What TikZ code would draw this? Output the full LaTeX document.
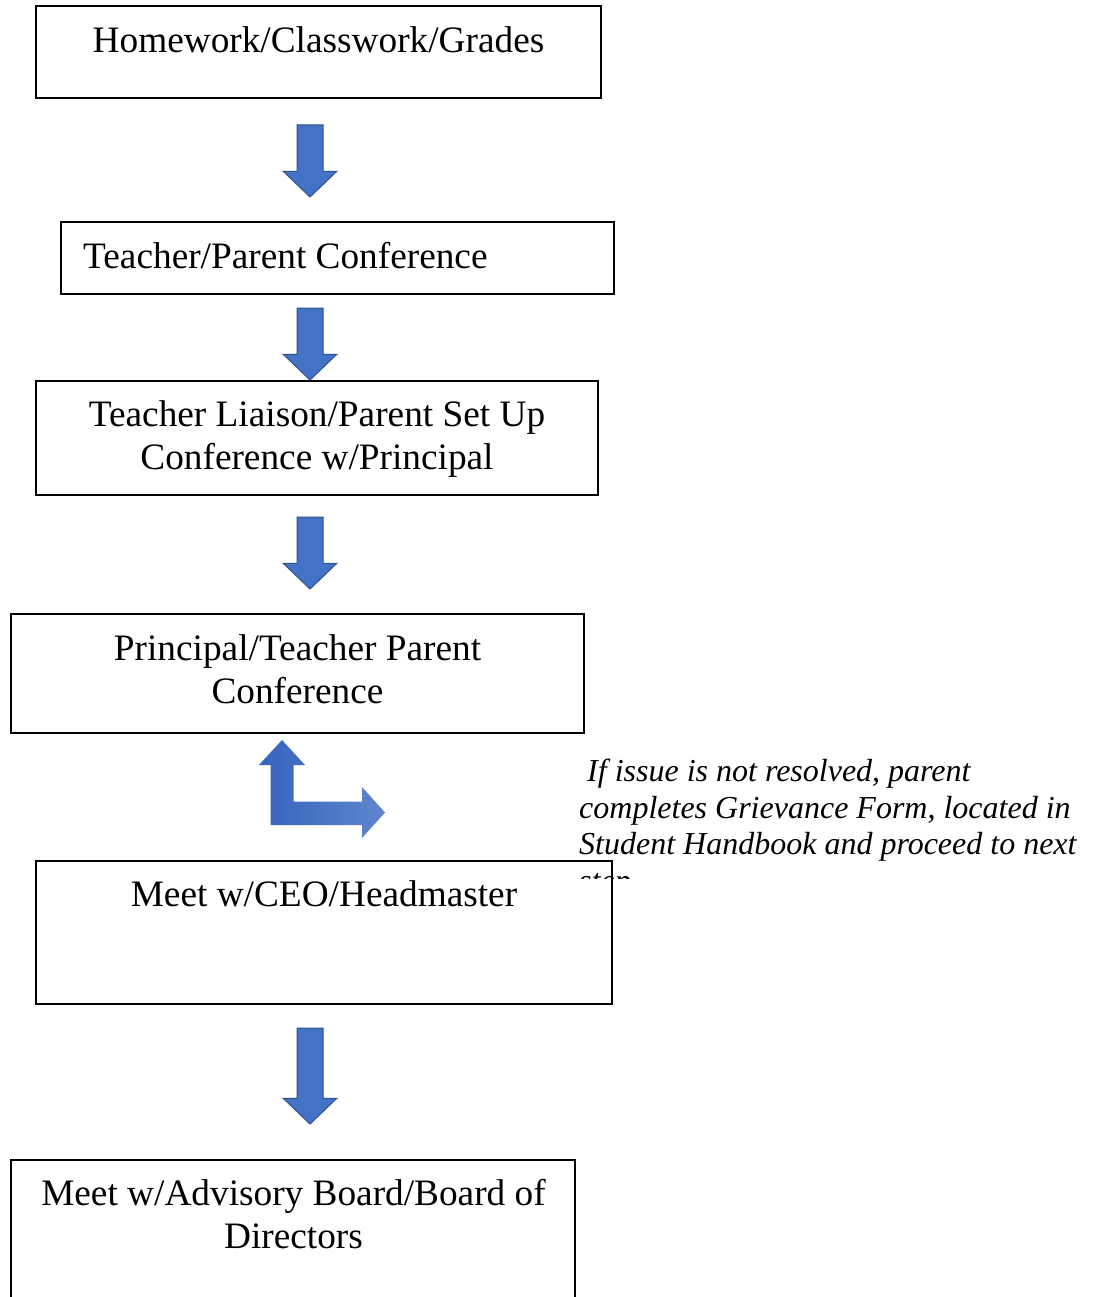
\documentclass[tikz,border=0pt]{standalone}
\usepackage{fontspec}
\setmainfont{Liberation Serif}
\begin{document}
\begin{tikzpicture}[x=1pt,y=-1pt,
  box/.style={draw=black,line width=1.6pt,inner sep=0pt,outer sep=0pt},
  lbl/.style={inner sep=0pt,font=\fontsize{37.3}{43}\selectfont,align=center},
  note/.style={inner sep=0pt,font=\fontsize{32}{36.6}\selectfont\itshape,align=left,anchor=north west},
  blk/.style={fill=arrowblue,draw=arrowedge,line width=1pt,line join=miter}]
\definecolor{arrowblue}{HTML}{4472C4}
\definecolor{arrowedge}{HTML}{2F528F}
\definecolor{bentleft}{HTML}{3563BC}
\definecolor{bentright}{HTML}{5F86CE}
\useasboundingbox (0,0) rectangle (1096,1297);
\fill[white] (0,0) rectangle (1096,1297);

% note text (clipped last line)
\begin{scope}
\clip (570,745) rectangle (1096,878);
\node[note] (note) at (579,759) {\ If issue is not resolved, parent\\ completes Grievance Form, located in\\ Student Handbook and proceed to next\\ step};
\end{scope}

% boxes
\draw[box] (36,6) rectangle (601,98);
\node[lbl] (t1) at (318.5,40) {Homework/Classwork/Grades};

\draw[box] (61,222) rectangle (614,294);
\node[lbl,anchor=west] (t2) at (83,256) {Teacher/Parent Conference};

\draw[box] (36,381) rectangle (598,495);
\node[lbl] (t3) at (317,439) {Teacher Liaison/Parent Set Up\\Conference w/Principal};

\draw[box] (11,614) rectangle (584,733);
\node[lbl] (t4) at (297.5,669) {Principal/Teacher Parent\\Conference};

\draw[box] (36,861) rectangle (612,1004);
\node[lbl] (t5) at (324,894) {Meet w/CEO/Headmaster};

\draw[box] (11,1299) -- (11,1160) -- (575,1160) -- (575,1299);
\node[lbl] (t6) at (293.5,1214) {Meet w/Advisory Board/Board of\\Directors};

% down block arrows
\foreach \ya/\yb in {125/197, 308/380, 517/589, 1028/1124}{
  \pgfmathsetmacro{\yh}{\yb-25.6}
  \draw[blk] (297,\ya) -- (323,\ya) -- (323,\yh) -- (336.7,\yh) -- (310,\yb)
     -- (283.3,\yh) -- (297,\yh) -- cycle;
}

% bent arrow
\shade[left color=bentleft,right color=bentright]
  (270.5,825) -- (270.5,765) -- (259,765) -- (282,740) -- (305,765) -- (293.5,765)
  -- (293.5,801.5) -- (362,801.5) -- (362,787) -- (385,812.5) -- (362,838)
  -- (362,825) -- cycle;
\end{tikzpicture}
\end{document}
